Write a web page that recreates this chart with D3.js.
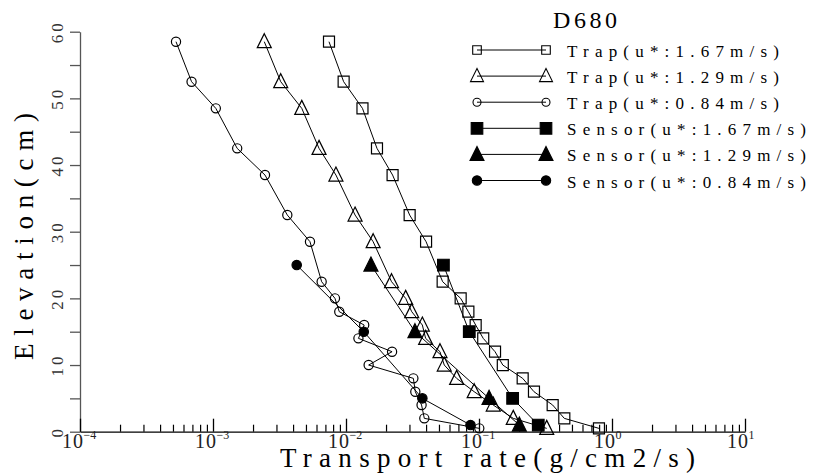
<!DOCTYPE html>
<html>
<head>
<meta charset="utf-8">
<script src="https://cdn.jsdelivr.net/npm/d3@7"></script>
<style>
  body { margin: 0; background: #fff; }
</style>
</head>
<body>
<svg id="chart" width="815" height="475" font-family="'Liberation Serif', 'DejaVu Serif', serif"></svg>
<script>
// datos
var trapHeights = [58.5, 52.5, 48.5, 42.5, 38.5, 32.5, 28.5, 22.5, 20, 18, 16, 14, 12, 10, 8, 6, 4, 2, 0.5];
var sensorHeights = [25, 15, 5, 1];

var trap167 = [0.00745, 0.0096, 0.0133, 0.0171, 0.0224, 0.0301, 0.040, 0.0533, 0.0728, 0.0832, 0.0944, 0.1076, 0.132, 0.151, 0.213, 0.259, 0.358, 0.438, 0.798];
var trap129 = [0.00243, 0.00323, 0.00465, 0.00627, 0.0084, 0.0117, 0.0160, 0.022, 0.0281, 0.0312, 0.0375, 0.0397, 0.0509, 0.0548, 0.0679, 0.092, 0.128, 0.181, 0.323];
var trap084 = [0.000527, 0.00069, 0.00105, 0.00152, 0.00246, 0.00362, 0.00536, 0.00656, 0.00826, 0.0089, 0.0137, 0.0124, 0.0222, 0.0148, 0.0321, 0.0332, 0.037, 0.0388, 0.1005];
var sensor167 = [0.0540, 0.0845, 0.179, 0.279];
var sensor129 = [0.0154, 0.033, 0.119, 0.201];
var sensor084 = [0.00426, 0.0136, 0.0375, 0.0863];

var labels = ["Trap(u*:1.67m/s)", "Trap(u*:1.29m/s)", "Trap(u*:0.84m/s)",
              "Sensor(u*:1.67m/s)", "Sensor(u*:1.29m/s)", "Sensor(u*:0.84m/s)"];
var yTicks = [0, 10, 20, 30, 40, 50, 60];
var xExponents = [-4, -3, -2, -1, 0, 1];

var series = [
  { name: labels[0], x: trap167, y: trapHeights, shape: "square", filled: false },
  { name: labels[1], x: trap129, y: trapHeights, shape: "triangle", filled: false },
  { name: labels[2], x: trap084, y: trapHeights, shape: "circle", filled: false },
  { name: labels[3], x: sensor167, y: sensorHeights, shape: "square", filled: true },
  { name: labels[4], x: sensor129, y: sensorHeights, shape: "triangle", filled: true },
  { name: labels[5], x: sensor084, y: sensorHeights, shape: "circle", filled: true }
];

var svg = d3.select("#chart");
var serif = "'Liberation Serif', 'DejaVu Serif', serif";

// escalas
var x = d3.scaleLog().domain([1e-4, 10]).range([80, 745]);
var y = d3.scaleLinear().domain([0, 60]).range([431.7, 31.7]);

// forma de cada marcador
function markerPath(shape, filled, small) {
  var s;
  if (shape === "square") {
    s = filled ? 5.8 : (small ? 4.3 : 5.5);
    return "M" + (-s) + "," + (-s) + "H" + s + "V" + s + "H" + (-s) + "Z";
  }
  if (shape === "triangle") {
    s = small && !filled ? 6.5 : 7;
    return "M0," + (-s - 1) + "L" + s + "," + (s - 1) + "L" + (-s) + "," + (s - 1) + "Z";
  }
  s = filled ? 4.7 : (small ? 4 : 4.6);
  return "M" + s + ",0A" + s + "," + s + " 0 1,1 " + (-s) + ",0A" + s + "," + s + " 0 1,1 " + s + ",0Z";
}

// eje y
var yAxis = svg.append("g")
  .attr("transform", "translate(80,0)")
  .call(d3.axisLeft(y).tickValues(d3.range(0, 61, 5)).tickSize(10).tickSizeOuter(0).tickFormat(""));
yAxis.selectAll("path, line").attr("stroke", "#555").attr("stroke-width", 1.3);

svg.selectAll(".ylab")
  .data(yTicks)
  .enter().append("text")
  .attr("class", "ylab")
  .attr("transform", function(d) { return "translate(63," + y(d) + ") rotate(-90)"; })
  .attr("text-anchor", "middle")
  .attr("font-family", serif)
  .attr("font-size", 17)
  .attr("letter-spacing", 3)
  .attr("fill", "#333")
  .text(function(d) { return d; });

// eje x: menores y mayores
var minorVals = [];
xExponents.slice(0, -1).forEach(function(e) {
  for (var k = 2; k <= 9; k++) minorVals.push(k * Math.pow(10, e));
});
var majorVals = xExponents.map(function(e) { return Math.pow(10, e); });

var xMinor = svg.append("g")
  .attr("transform", "translate(0,431.7)")
  .call(d3.axisBottom(x).tickValues(minorVals).tickSize(-7).tickSizeOuter(0).tickFormat(""));
var xMajor = svg.append("g")
  .attr("transform", "translate(0,431.7)")
  .call(d3.axisBottom(x).tickValues(majorVals).tickSize(-13).tickSizeOuter(0).tickFormat(""));
xMinor.select(".domain").remove();
xMajor.selectAll("path, line").attr("stroke", "#000").attr("stroke-width", 1.3);
xMinor.selectAll("line").attr("stroke", "#000").attr("stroke-width", 1.2);

// etiquetas 10^n en un solo texto
var xl = svg.selectAll(".xlab")
  .data(xExponents)
  .enter().append("text")
  .attr("class", "xlab")
  .attr("x", function(d) { return x(Math.pow(10, d)) - 18; })
  .attr("y", 448)
  .attr("font-family", serif)
  .attr("font-size", 20)
  .attr("fill", "#222");
xl.append("tspan").text("1");
xl.append("tspan").attr("dx", 1).text("0");
xl.append("tspan")
  .attr("dx", 0.5)
  .attr("dy", -9)
  .attr("font-size", 12)
  .text(function(d) { return d < 0 ? "\u2212" + Math.abs(d) : String(d); });

// titulos
svg.append("text")
  .attr("x", 280).attr("y", 467)
  .attr("textLength", 415).attr("lengthAdjust", "spacing")
  .attr("font-family", serif)
  .attr("font-size", 27)
  .text("Transport rate(g/cm2/s)");

svg.append("text")
  .attr("transform", "translate(33,236.5) rotate(-90)")
  .attr("text-anchor", "middle")
  .attr("textLength", 247).attr("lengthAdjust", "spacing")
  .attr("font-family", serif)
  .attr("font-size", 27)
  .text("Elevation(cm)");

svg.append("text")
  .attr("x", 553).attr("y", 28)
  .attr("textLength", 64).attr("lengthAdjust", "spacing")
  .attr("font-family", serif)
  .attr("font-size", 24)
  .text("D680");

// series
var line = d3.line()
  .x(function(d) { return x(d[0]); })
  .y(function(d) { return y(d[1]); });

series.forEach(function(s) {
  var pts = s.x.map(function(v, i) { return [v, s.y[i]]; });
  var g = svg.append("g");
  g.append("path")
    .datum(pts)
    .attr("d", line)
    .attr("fill", "none")
    .attr("stroke", "#000")
    .attr("stroke-width", 1);
  g.selectAll(".mk")
    .data(pts)
    .enter().append("path")
    .attr("class", "mk")
    .attr("transform", function(d) { return "translate(" + x(d[0]) + "," + y(d[1]) + ")"; })
    .attr("d", markerPath(s.shape, s.filled, false))
    .attr("fill", s.filled ? "#000" : "none")
    .attr("stroke", "#000")
    .attr("stroke-width", 1.2);
});

// leyenda
var leg = svg.selectAll(".leg")
  .data(series)
  .enter().append("g")
  .attr("class", "leg")
  .attr("transform", function(d, i) { return "translate(0," + (50 + i * 26.1) + ")"; });
leg.append("line")
  .attr("x1", 477).attr("x2", 546)
  .attr("stroke", "#000").attr("stroke-width", 1);
leg.selectAll(".lm")
  .data(function(d) { return [d, d]; })
  .enter().append("path")
  .attr("class", "lm")
  .attr("transform", function(d, i) { return "translate(" + (i ? 546 : 477) + ",0)"; })
  .attr("d", function(d) { return markerPath(d.shape, d.filled, true); })
  .attr("fill", function(d) { return d.filled ? "#000" : "none"; })
  .attr("stroke", "#000")
  .attr("stroke-width", 1.1);
leg.append("text")
  .attr("x", 567).attr("y", 7)
  .attr("textLength", function(d) { return d.name.length * 13.5 - 4; })
  .attr("lengthAdjust", "spacing")
  .attr("font-family", serif)
  .attr("font-size", 17)
  .text(function(d) { return d.name; });
</script>
</body>
</html>
